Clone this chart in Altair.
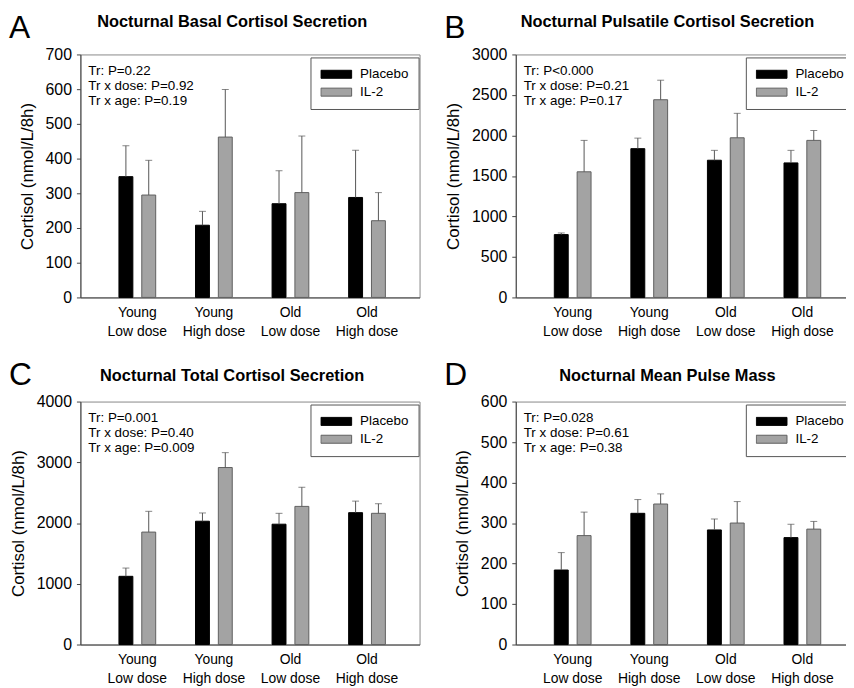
import altair as alt
import pandas as pd

FONT = "Liberation Sans"

groups = ["Young|Low dose", "Young|High dose", "Old|Low dose", "Old|High dose"]
series = ["Placebo", "IL-2"]
fill_colors = ["#000000", "#a3a3a3"]
stroke_colors = ["#000000", "#5f5f5f"]
y_title = "Cortisol (nmol/L/8h)"

# Panel A
a_letter = "A"
a_title = "Nocturnal Basal Cortisol Secretion"
a_notes = ["Tr: P=0.22", "Tr x dose: P=0.92", "Tr x age: P=0.19"]
a_placebo = [348, 208, 270, 288]
a_placebo_err = [437, 248, 365, 424]
a_il2 = [295, 462, 302, 221]
a_il2_err = [395, 599, 465, 302]
a_ticks = [0, 100, 200, 300, 400, 500, 600, 700]

# Panel B
b_letter = "B"
b_title = "Nocturnal Pulsatile Cortisol Secretion"
b_notes = ["Tr: P<0.000", "Tr x dose: P=0.21", "Tr x age: P=0.17"]
b_placebo = [776, 1837, 1694, 1661]
b_placebo_err = [796, 1967, 1816, 1816]
b_il2 = [1551, 2441, 1971, 1939]
b_il2_err = [1939, 2682, 2273, 2061]
b_ticks = [0, 500, 1000, 1500, 2000, 2500, 3000]

# Panel C
c_letter = "C"
c_title = "Nocturnal Total Cortisol Secretion"
c_notes = ["Tr: P=0.001", "Tr x dose: P=0.40", "Tr x age: P=0.009"]
c_placebo = [1123, 2030, 1981, 2171]
c_placebo_err = [1259, 2166, 2160, 2361]
c_il2 = [1851, 2914, 2274, 2160]
c_il2_err = [2193, 3159, 2589, 2318]
c_ticks = [0, 1000, 2000, 3000, 4000]

# Panel D
d_letter = "D"
d_title = "Nocturnal Mean Pulse Mass"
d_notes = ["Tr: P=0.028", "Tr x dose: P=0.61", "Tr x age: P=0.38"]
d_placebo = [184, 324, 283, 264]
d_placebo_err = [227, 358, 310, 297]
d_il2 = [269, 347, 300, 285]
d_il2_err = [327, 372, 353, 304]
d_ticks = [0, 100, 200, 300, 400, 500, 600]

W, H = 342, 245


def panel(letter, title, notes, placebo, placebo_err, il2, il2_err, ticks, title_y):
    df = pd.DataFrame({
        "group": groups * 2,
        "series": [series[0]] * 4 + [series[1]] * 4,
        "value": placebo + il2,
        "err": placebo_err + il2_err,
    })
    x = alt.X("group:N", sort=groups, title=None,
              scale=alt.Scale(paddingInner=0.52, paddingOuter=0.475, align=0.53),
              axis=alt.Axis(labelAngle=0, ticks=False, labelFontSize=14, labelPadding=8,
                            labelLineHeight=19, labelExpr="split(datum.label, '|')",
                            labelColor="black", domainColor="#444", labelFont=FONT))
    xo = alt.XOffset("series:N", sort=series,
                     scale=alt.Scale(domain=series, paddingInner=0.39, paddingOuter=0))
    y = alt.Y("value:Q", title=y_title,
              scale=alt.Scale(domain=[ticks[0], ticks[-1]], nice=False),
              axis=alt.Axis(values=ticks, tickCount=len(ticks), format="d",
                            labelOverlap=False, grid=False,
                            labelFontSize=16, titleFontSize=17,
                            titleFontWeight="normal", titlePadding=9, tickSize=4,
                            labelPadding=5, tickColor="#444", domainColor="#444",
                            labelColor="black", titleColor="black",
                            labelFont=FONT, titleFont=FONT))
    leg = alt.Legend(orient="none", legendX=232, legendY=3, title=None,
                     symbolType="M-1,-0.26H1V0.26H-1Z", symbolSize=961, clipHeight=14,
                     rowPadding=4, padding=10, labelFontSize=13.5, labelOffset=8,
                     strokeColor="#555", fillColor="white", symbolStrokeWidth=1,
                     labelFont=FONT, labelColor="black")
    base = alt.Chart(df)
    bars = base.mark_bar(strokeWidth=1).encode(
        x=x, xOffset=xo, y=y,
        fill=alt.Fill("series:N", sort=series,
                      scale=alt.Scale(domain=series, range=fill_colors), legend=leg),
        stroke=alt.Stroke("series:N", sort=series,
                          scale=alt.Scale(domain=series, range=stroke_colors), legend=leg),
    )
    rules = base.mark_rule(color="#555", strokeWidth=1).encode(
        x=x, xOffset=xo, y="value:Q", y2="err:Q")
    caps = base.mark_tick(color="#555", thickness=1, size=7).encode(
        x=x, xOffset=xo, y="err:Q")
    one = pd.DataFrame({"t": [letter], "h": [title]})
    notes_t = alt.Chart(one).mark_text(
        align="left", baseline="top", fontSize=13.5, lineHeight=15, font=FONT, color="black"
    ).encode(x=alt.value(8), y=alt.value(10), text=alt.value(notes))
    title_t = alt.Chart(one).mark_text(
        align="center", baseline="alphabetic", fontSize=16.5, fontWeight="bold",
        font=FONT, color="black"
    ).encode(x=alt.value(W / 2 - 18), y=alt.value(title_y), text="h:N")
    letter_t = alt.Chart(one).mark_text(
        align="left", baseline="top", fontSize=32, font=FONT, color="black"
    ).encode(x=alt.value(-72), y=alt.value(-42), text="t:N")
    return alt.layer(bars, rules, caps, notes_t, title_t, letter_t).properties(width=W, height=H)


A = panel(a_letter, a_title, a_notes, a_placebo, a_placebo_err, a_il2, a_il2_err, a_ticks, -28)
B = panel(b_letter, b_title, b_notes, b_placebo, b_placebo_err, b_il2, b_il2_err, b_ticks, -28)
C = panel(c_letter, c_title, c_notes, c_placebo, c_placebo_err, c_il2, c_il2_err, c_ticks, -21)
D = panel(d_letter, d_title, d_notes, d_placebo, d_placebo_err, d_il2, d_il2_err, d_ticks, -21)

ind = dict(fill="independent", stroke="independent", xOffset="independent",
           x="independent", y="independent")

chart = (
    alt.concat(A, B, C, D, columns=2, spacing={"row": 105, "column": 97}, bounds="flush")
    .resolve_scale(**ind)
    .resolve_legend(fill="independent", stroke="independent")
    .properties(padding={"left": 0, "top": 0, "right": -10, "bottom": 0})
    .configure(font=FONT, background="white")
    .configure_view(stroke="#888", strokeWidth=1)
)

chart.save("out.html", embed_options={"renderer": "svg", "actions": False})
